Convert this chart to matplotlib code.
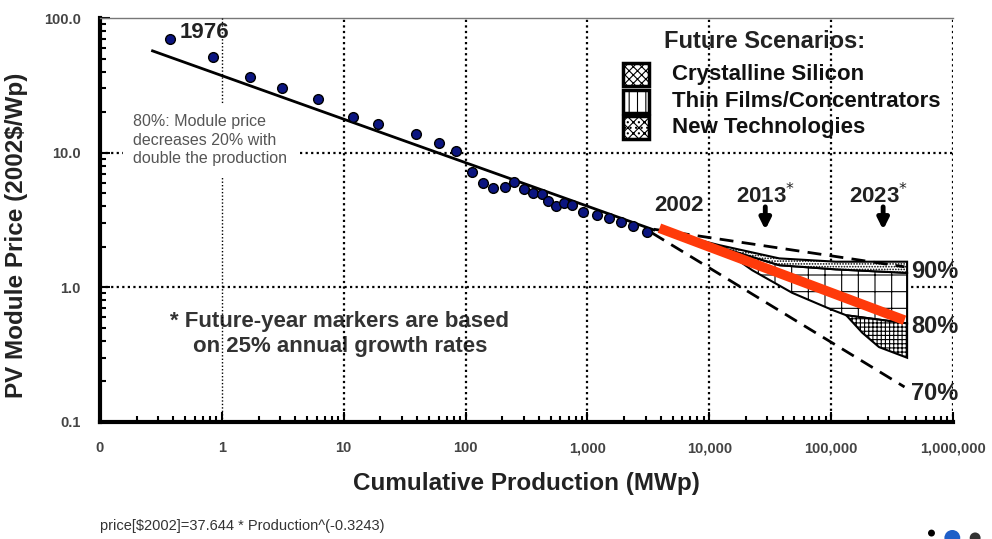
import matplotlib
matplotlib.use("Agg")
import matplotlib.pyplot as plt
from matplotlib.patches import Rectangle, Ellipse
from matplotlib.ticker import FixedLocator, LogLocator, NullFormatter

plt.rcParams['font.family'] = ['Liberation Sans', 'DejaVu Sans']
plt.rcParams['hatch.linewidth'] = 0.8

# historical module prices 1976-2002 (cumulative MWp, 2002$/Wp)
production = [0.375, 0.84, 1.7, 3.1, 6.2, 11.9, 19, 39, 61, 84, 112, 138, 168, 209,
              252, 302, 358, 424, 478, 555, 646, 751, 920, 1208, 1513, 1900, 2380, 3100]
price = [69.7, 51, 36.4, 30, 25, 18.4, 16.3, 13.7, 11.8, 10.3, 7.2, 6.0, 5.5, 5.6,
         6.1, 5.4, 5.0, 4.9, 4.4, 4.0, 4.2, 4.1, 3.6, 3.44, 3.27, 3.06, 2.85, 2.57]

# fitted experience curve (end points)
fit_x = [0.27, 3500]
fit_y = [57, 2.67]

# scenario lines
red80_x = [3900, 400000]
red80_y = [2.75, 0.57]
dash90_x = [3500, 400000]
dash90_y = [2.7, 1.42]
dash70_x = [3400, 400000]
dash70_y = [2.53, 0.182]

# scenario regions (outline vertices)
cryst_x = [3900, 12000, 37500, 109000, 420000, 420000, 109000, 37500, 12000]
cryst_y = [2.66, 2.06, 1.64, 1.55, 1.55, 1.28, 1.36, 1.46, 2.0]
thin_x = [3900, 12000, 37500, 109000, 420000, 420000, 133000, 102000, 47900, 22500, 12000]
thin_y = [2.66, 2.0, 1.46, 1.36, 1.28, 0.54, 0.62, 0.68, 0.91, 1.34, 2.0]
newt_x = [133000, 180000, 247000, 420000, 420000]
newt_y = [0.62, 0.46, 0.36, 0.30, 0.54]

x_ticks = [0.1, 1, 10, 100, 1000, 10000, 100000, 1000000]
x_labels = ["0", "1", "10", "100", "1,000", "10,000", "100,000", "1,000,000"]
y_ticks = [0.1, 1, 10, 100]
y_labels = ["0.1", "1.0", "10.0", "100.0"]

legend_names = ["Crystalline Silicon", "Thin Films/Concentrators", "New Technologies"]
region_hatch = ["......", "+", "++++"]
legend_hatch = ["xxxx", "||", "xxx..."]

fig = plt.figure(figsize=(9.92, 5.39), dpi=100)
ax = fig.add_axes([0.1008, 0.2171, 0.8599, 0.7495])
ax.set_xscale('log')
ax.set_yscale('log')
ax.set_xlim(0.1, 1e6)
ax.set_ylim(0.1, 100)

# grid
for gx in x_ticks[1:]:
    ax.axvline(gx, color='k', ls=(0, (1, 1.5)), lw=1.0 if gx == 1 else 1.6, zorder=3)
for gy in [1, 10]:
    ax.axhline(gy, color='k', ls=(0, (1, 1.5)), lw=1.6, zorder=3)

# regions
ax.fill(thin_x, thin_y, facecolor='white', edgecolor='k', hatch=region_hatch[1], lw=1.5, zorder=4)
ax.fill(cryst_x, cryst_y, facecolor='white', edgecolor='k', hatch=region_hatch[0], lw=1.5, zorder=4)
ax.fill(newt_x, newt_y, facecolor='white', edgecolor='k', hatch=region_hatch[2], lw=1.5, zorder=4)

ax.plot(dash90_x, dash90_y, color='k', lw=2, dashes=(5, 3), zorder=5)
ax.plot(dash70_x, dash70_y, color='k', lw=2, dashes=(5, 3), zorder=5)
ax.plot(fit_x, fit_y, color='k', lw=2, zorder=5)
ax.plot(production, price, 'o', color='#0b1580', mec='k', mew=1, ms=7, zorder=6)
ax.plot(red80_x, red80_y, color='#ff3a0a', lw=7, solid_capstyle='butt', zorder=7)

# labels on chart
ax.text(0.45, 78, "1976", fontsize=16, fontweight='bold', color='#222222', va='center', ha='left', zorder=8)
ax.text(5680, 4.08, "2002", fontsize=16, fontweight='bold', color='#222222', va='center', ha='center', zorder=8)
ax.text(28800, 4.84, "2013$^{*}$", fontsize=16, fontweight='bold', color='#222222', va='center', ha='center', zorder=8)
ax.text(247000, 4.84, "2023$^{*}$", fontsize=16, fontweight='bold', color='#222222', va='center', ha='center', zorder=8)
for arr_x in [28800, 267000]:
    ax.annotate('', xy=(arr_x, 2.55), xytext=(arr_x, 4.15),
                arrowprops=dict(arrowstyle='-|>', lw=3.5, color='k', mutation_scale=16))
for lbl, ly in [("90%", 1.30), ("80%", 0.51), ("70%", 0.164)]:
    ax.text(453000, ly, lbl, fontsize=17, fontweight='bold', color='#222222', va='center', ha='left', zorder=8)

ax.text(0.0387, 0.762, "80%: Module price\ndecreases 20% with\ndouble the production",
        transform=ax.transAxes, fontsize=11.5, color='#555555', va='top', ha='left',
        linespacing=1.3, zorder=9,
        bbox=dict(boxstyle='square,pad=0.6', fc='white', ec='none'))
ax.text(0.281, 0.218, "* Future-year markers are based\non 25% annual growth rates",
        transform=ax.transAxes, fontsize=16, fontweight='bold', color='#333333',
        va='center', ha='center', linespacing=1.2, zorder=2)

# legend
ax.text(0.661, 0.941, "Future Scenarios:", transform=ax.transAxes, fontsize=17,
        fontweight='bold', color='#222222', va='center', ha='left', zorder=8)
for i, name in enumerate(legend_names):
    ly = 0.859 - i * 0.065
    ax.add_patch(Rectangle((0.613, ly - 0.0285), 0.0305, 0.057, transform=ax.transAxes,
                           facecolor='white', edgecolor='k', hatch=legend_hatch[i], lw=2.5, zorder=8))
    ax.text(0.671, ly, name, transform=ax.transAxes, fontsize=16, fontweight='bold',
            color='#111111', va='center', ha='left', zorder=8)

# axes styling
ax.xaxis.set_major_locator(FixedLocator(x_ticks))
ax.set_xticklabels(x_labels)
ax.yaxis.set_major_locator(FixedLocator(y_ticks))
ax.set_yticklabels(y_labels)
ax.xaxis.set_minor_locator(LogLocator(base=10, subs=range(2, 10)))
ax.yaxis.set_minor_locator(LogLocator(base=10, subs=range(2, 10)))
ax.xaxis.set_minor_formatter(NullFormatter())
ax.yaxis.set_minor_formatter(NullFormatter())
ax.tick_params(which='both', direction='in', color='k', width=1.5)
ax.tick_params(which='major', length=7)
ax.tick_params(which='minor', length=4)
ax.tick_params(axis='x', pad=14, labelsize=10.5, labelcolor='#444444')
ax.tick_params(axis='y', pad=14, labelsize=10.5, labelcolor='#444444')
for t in ax.get_xticklabels() + ax.get_yticklabels():
    t.set_fontweight('bold')
ax.spines['left'].set_linewidth(3)
ax.spines['bottom'].set_linewidth(3)
ax.spines['top'].set_linewidth(1)
ax.spines['top'].set_color('#777777')
ax.spines['right'].set_visible(False)

ax.set_xlabel("Cumulative Production (MWp)", fontsize=17.5, fontweight='bold', color='#222222', labelpad=12)
ax.set_ylabel("PV Module Price (2002$/Wp)", fontsize=17.5, fontweight='bold', color='#222222')
ax.yaxis.set_label_coords(-0.084, 0.463)

fig.text(0.101, 0.017, "price[$2002]=37.644 * Production^(-0.3243)", fontsize=10.5, color='#333333')

# cropped logo in the corner
for lx, ly, lw_, lc in [(0.939, 0.011, 0.007, 'k'), (0.960, 0.002, 0.016, '#1f5fc8'),
                        (0.983, 0.002, 0.011, '#333333')]:
    fig.patches.append(Ellipse((lx, ly), lw_, lw_ * 992 / 539, transform=fig.transFigure,
                               facecolor=lc, edgecolor='none', figure=fig))

fig.savefig("out.png", dpi=100)
